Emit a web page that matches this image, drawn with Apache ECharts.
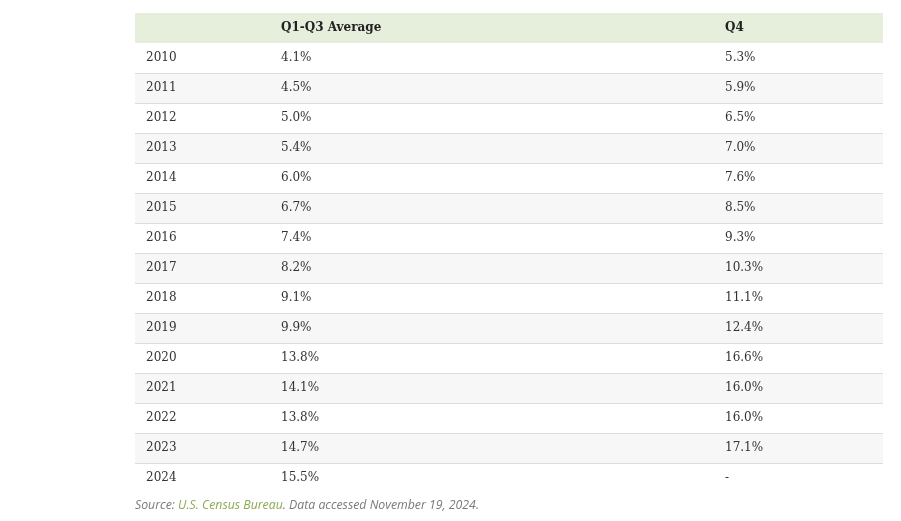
<!DOCTYPE html>
<html><head><meta charset="utf-8">
<script src="https://cdn.jsdelivr.net/npm/echarts@6/dist/echarts.min.js"></script>
<style>html,body{margin:0;padding:0;background:#fff}#c{width:901px;height:521px}</style>
</head><body><div id="c"></div>
<script>
const headers = ['', 'Q1-Q3 Average', 'Q4'];
const years = ['2010','2011','2012','2013','2014','2015','2016','2017','2018','2019','2020','2021','2022','2023','2024'];
const q1q3Avg = [4.1,4.5,5.0,5.4,6.0,6.7,7.4,8.2,9.1,9.9,13.8,14.1,13.8,14.7,15.5];
const q4 = [5.3,5.9,6.5,7.0,7.6,8.5,9.3,10.3,11.1,12.4,16.6,16.0,16.0,17.1,null];

const fmt = v => v == null ? '-' : v.toFixed(1) + '%';
const rows = ['header'].concat(years);
const cells = [headers];
years.forEach((y, i) => cells.push([y, fmt(q1q3Avg[i]), fmt(q4[i])]));
const data = rows.map((r, i) => [0, i]);

const chart = echarts.init(document.getElementById('c'), null, {renderer: 'canvas'});
const SERIF = '"DejaVu Serif", serif';
chart.setOption({
  animation: false,
  title: {
    left: 135, top: 499, padding: 0,
    text: '{a|Source: }{b|U.S. Census Bureau}{a|. Data accessed November 19, 2024.}',
    textStyle: {
      fontWeight: 'normal',
      rich: {
        a: {fontFamily: '"Open Sans", sans-serif', fontStyle: 'italic', fontWeight: 'normal', fontSize: 12.3, color: '#7a7a7a'},
        b: {fontFamily: '"Open Sans", sans-serif', fontStyle: 'italic', fontWeight: 'normal', fontSize: 12.3, color: '#8aab52'}
      }
    }
  },
  grid: {left: 135, right: 18, top: 13, height: 480},
  xAxis: {type: 'value', min: 0, max: 1, show: false},
  yAxis: {type: 'category', data: rows, inverse: true, show: false},
  series: [{
    type: 'custom',
    encode: {x: 0, y: 1},
    data: data,
    renderItem: function (params, api) {
      const idx = params.dataIndex;
      const row = cells[idx];
      const p = api.coord([0, idx]);
      const sz = api.size([1, 1]);
      const w = sz[0], h = sz[1];
      const x0 = p[0], yc = p[1], yt = yc - h / 2;
      const isHeader = idx === 0;
      const fill = isHeader ? '#e6eedc' : (idx % 2 === 0 ? '#f7f7f7' : '#ffffff');
      const txt = (t, x) => ({
        type: 'text',
        style: {
          text: t, x: x, y: yc,
          fill: isHeader ? '#222' : '#333',
          fontFamily: SERIF, fontSize: 12,
          fontWeight: isHeader ? 'bold' : 'normal',
          align: 'left', verticalAlign: 'middle'
        }
      });
      const children = [
        {type: 'rect', shape: {x: x0, y: yt, width: w, height: h}, style: {fill: fill}}
      ];
      if (idx >= 2) {
        children.push({type: 'line', shape: {x1: x0, y1: Math.round(yt) + 0.5, x2: x0 + w, y2: Math.round(yt) + 0.5}, style: {stroke: '#dcdcdc', lineWidth: 1}});
      }
      children.push(txt(row[0], x0 + 11));
      children.push(txt(row[1], x0 + w * 0.1952));
      children.push(txt(row[2], x0 + w * 0.7888));
      return {type: 'group', children: children};
    }
  }]
});
</script>
</body></html>
